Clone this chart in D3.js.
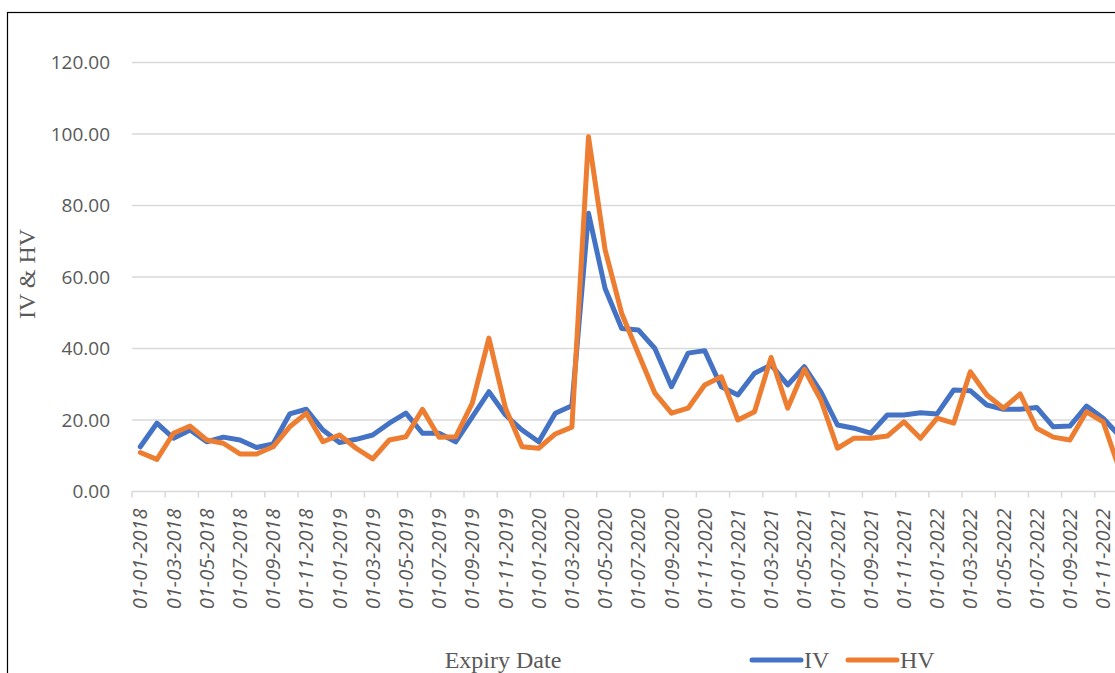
<!DOCTYPE html>
<html>
<head>
<meta charset="utf-8">
<script src="https://cdn.jsdelivr.net/npm/d3@7"></script>
<style>
  body { margin: 0; background: #fff; }
  svg { display: block; }
</style>
</head>
<body>
<svg id="chart" width="1115" height="673"></svg>
<script>
// expiry dates (monthly, Jan 2018 - Dec 2022)
var expiry = [
  '01-01-2018','01-02-2018','01-03-2018','01-04-2018','01-05-2018','01-06-2018',
  '01-07-2018','01-08-2018','01-09-2018','01-10-2018','01-11-2018','01-12-2018',
  '01-01-2019','01-02-2019','01-03-2019','01-04-2019','01-05-2019','01-06-2019',
  '01-07-2019','01-08-2019','01-09-2019','01-10-2019','01-11-2019','01-12-2019',
  '01-01-2020','01-02-2020','01-03-2020','01-04-2020','01-05-2020','01-06-2020',
  '01-07-2020','01-08-2020','01-09-2020','01-10-2020','01-11-2020','01-12-2020',
  '01-01-2021','01-02-2021','01-03-2021','01-04-2021','01-05-2021','01-06-2021',
  '01-07-2021','01-08-2021','01-09-2021','01-10-2021','01-11-2021','01-12-2021',
  '01-01-2022','01-02-2022','01-03-2022','01-04-2022','01-05-2022','01-06-2022',
  '01-07-2022','01-08-2022','01-09-2022','01-10-2022','01-11-2022','01-12-2022'
];

var iv = [
  12.5, 19.1, 14.9, 17.2, 13.9, 15.2, 14.4, 12.3, 13.3, 21.7, 23.0, 17.2,
  13.7, 14.6, 15.8, 19.1, 21.9, 16.3, 16.3, 13.9, 20.9, 27.9, 21.4, 17.2,
  13.9, 21.9, 24.0, 77.8, 56.8, 45.6, 45.2, 40.0, 29.3, 38.7, 39.4, 29.3,
  27.0, 33.1, 35.4, 29.8, 34.9, 27.9, 18.6, 17.7, 16.3, 21.4, 21.4, 22.0,
  21.7, 28.4, 28.2, 24.2, 23.0, 23.0, 23.5, 18.1, 18.3, 23.9, 20.5, 15.5
];

var hv = [
  10.9, 9.0, 16.3, 18.3, 14.4, 13.5, 10.5, 10.5, 12.5, 18.1, 21.9, 13.9,
  15.8, 12.1, 9.1, 14.4, 15.3, 23.0, 15.2, 15.3, 24.7, 42.9, 23.3, 12.5,
  12.1, 16.1, 18.0, 99.2, 67.6, 49.8, 38.6, 27.5, 21.9, 23.3, 29.8, 32.1,
  20.0, 22.3, 37.5, 23.3, 34.2, 25.6, 12.1, 14.9, 14.9, 15.5, 19.5, 14.9,
  20.5, 19.1, 33.5, 27.0, 23.3, 27.3, 17.7, 15.2, 14.4, 22.3, 19.5, 6.0
];

var yTicks = [0, 20, 40, 60, 80, 100, 120];

var series = [
  { name: 'IV', values: iv, color: '#4472C4' },
  { name: 'HV', values: hv, color: '#ED7D31' }
];

(function() {
  var svg = d3.select('#chart');

  // outer chart border
  svg.append('rect')
    .attr('x', 7.5).attr('y', 12.5)
    .attr('width', 1300).attr('height', 1000)
    .attr('fill', '#fff')
    .attr('stroke', '#000')
    .attr('stroke-width', 1.2);

  var plotLeft = 132, step = 16.6, plotBottom = 491.5, plotTop = 62.5;

  var x = d3.scaleBand()
    .domain(expiry)
    .range([plotLeft, plotLeft + step * expiry.length])
    .padding(0);

  var y = d3.scaleLinear()
    .domain([0, 120])
    .range([plotBottom, plotTop]);

  var bw = x.bandwidth();

  // gridlines
  svg.append('g')
    .selectAll('line')
    .data(yTicks.filter(function(d) { return d > 0; }))
    .join('line')
    .attr('x1', plotLeft).attr('x2', 1200)
    .attr('y1', function(d) { return y(d); })
    .attr('y2', function(d) { return y(d); })
    .attr('stroke', '#d9d9d9')
    .attr('stroke-width', 1.5);

  // y axis labels
  var yAxis = svg.append('g')
    .attr('transform', 'translate(' + plotLeft + ',0)')
    .call(d3.axisLeft(y).tickValues(yTicks).tickSize(0).tickPadding(22).tickFormat(d3.format('.2f')));
  yAxis.select('.domain').remove();
  yAxis.selectAll('text')
    .attr('font-family', 'Open Sans')
    .attr('font-size', 19)
    .attr('fill', '#595959');

  // x axis
  var evens = expiry.filter(function(d, i) { return i % 2 === 0; });
  var xAxis = svg.append('g')
    .attr('transform', 'translate(0,' + plotBottom + ')')
    .call(d3.axisBottom(x).tickValues(evens).tickSize(6).tickSizeOuter(0));
  xAxis.select('.domain')
    .attr('stroke', '#d9d9d9')
    .attr('stroke-width', 1.5)
    .attr('d', 'M' + plotLeft + ',0H1200');
  xAxis.selectAll('.tick line')
    .attr('x1', -bw / 2).attr('x2', -bw / 2)
    .attr('stroke', '#d9d9d9')
    .attr('stroke-width', 1.5);
  xAxis.selectAll('.tick text')
    .attr('font-family', 'Open Sans')
    .attr('font-size', 20)
    .attr('font-style', 'italic')
    .attr('fill', '#595959')
    .attr('text-anchor', 'end')
    .attr('dy', null)
    .attr('y', 0)
    .attr('transform', 'translate(7,17) rotate(-90)');

  // lines
  var line = d3.line()
    .x(function(d, i) { return x(expiry[i]) + bw / 2; })
    .y(function(d) { return y(d); });

  svg.append('g')
    .selectAll('path')
    .data(series)
    .join('path')
    .attr('d', function(s) { return line(s.values); })
    .attr('fill', 'none')
    .attr('stroke', function(s) { return s.color; })
    .attr('stroke-width', 5)
    .attr('stroke-linejoin', 'round')
    .attr('stroke-linecap', 'round');

  // axis titles
  svg.append('text')
    .attr('transform', 'translate(35,274) rotate(-90)')
    .attr('text-anchor', 'middle')
    .attr('font-family', 'Liberation Serif')
    .attr('font-size', 24)
    .attr('fill', '#595959')
    .text('IV & HV');

  svg.append('text')
    .attr('x', 503).attr('y', 668)
    .attr('text-anchor', 'middle')
    .attr('font-family', 'Liberation Serif')
    .attr('font-size', 24)
    .attr('fill', '#595959')
    .text('Expiry Date');

  // legend
  var legend = svg.append('g')
    .selectAll('g')
    .data(series)
    .join('g')
    .attr('transform', function(s, i) { return 'translate(' + [752, 848][i] + ',660)'; });
  legend.append('line')
    .attr('x1', 0).attr('x2', 49)
    .attr('stroke', function(s) { return s.color; })
    .attr('stroke-width', 5)
    .attr('stroke-linecap', 'round');
  legend.append('text')
    .attr('x', 52).attr('y', 8)
    .attr('font-family', 'Liberation Serif')
    .attr('font-size', 24)
    .attr('fill', '#595959')
    .text(function(s) { return s.name; });
})();
</script>
</body>
</html>
